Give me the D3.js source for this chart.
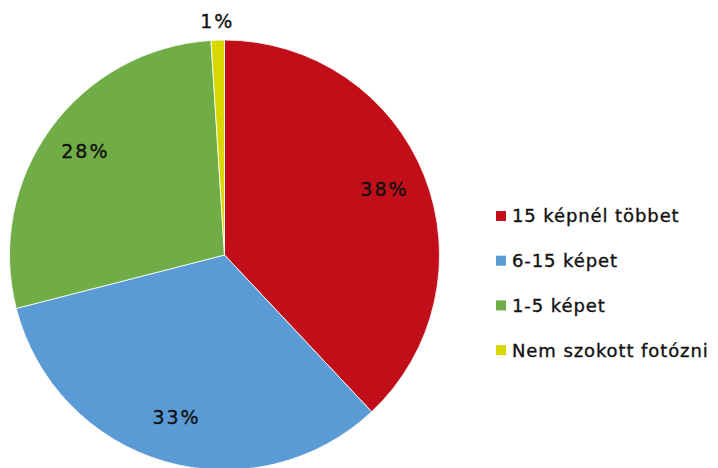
<!DOCTYPE html>
<html>
<head>
<meta charset="utf-8">
<script src="https://cdn.jsdelivr.net/npm/d3@7"></script>
<style>
  body { margin: 0; background: #fff; }
  svg text { font-family: "DejaVu Sans", sans-serif; fill: #111; stroke: #111; stroke-width: 0.35px; }
</style>
</head>
<body>
<svg id="chart" width="718" height="468"></svg>
<script>
const categories = ["15 képnél többet", "6-15 képet", "1-5 képet", "Nem szokott fotózni"];
const values = [38, 33, 28, 1];
const labels = ["38%", "33%", "28%", "1%"];
const colors = ["#C20E18", "#5B9BD5", "#70AD47", "#D8D800"];

const svg = d3.select("#chart");
const cx = 224.5, cy = 255, radius = 215;

const pie = d3.pie().sort(null).value(d => d.value);
const arcs = pie(categories.map((c, i) => ({ name: c, value: values[i], label: labels[i], color: colors[i] })));

const arc = d3.arc().innerRadius(0).outerRadius(radius);
const labelArc = d3.arc().innerRadius(radius * 0.8).outerRadius(radius * 0.8);
const outerArc = d3.arc().innerRadius(radius + 16).outerRadius(radius + 16);

const g = svg.append("g").attr("transform", `translate(${cx},${cy})`);

g.selectAll("path")
  .data(arcs)
  .enter()
  .append("path")
  .attr("d", arc)
  .attr("fill", d => d.data.color)
  .attr("stroke", "#fff")
  .attr("stroke-width", 0.8);

g.selectAll("text")
  .data(arcs)
  .enter()
  .append("text")
  .attr("transform", d => {
    const p = (d.data.value < 5 ? outerArc : labelArc).centroid(d);
    return `translate(${p[0]},${p[1] - 3})`;
  })
  .attr("text-anchor", "middle")
  .attr("dy", "0.36em")
  .style("font-size", "19px")
  .style("letter-spacing", "2px")
  .text(d => d.data.label);

const legend = svg.append("g").attr("transform", "translate(496,216)");
const rows = legend.selectAll("g")
  .data(categories)
  .enter()
  .append("g")
  .attr("transform", (d, i) => `translate(0,${i * 44.7})`);

rows.append("rect")
  .attr("x", 0)
  .attr("y", -5)
  .attr("width", 10)
  .attr("height", 10)
  .attr("fill", (d, i) => colors[i]);

rows.append("text")
  .attr("x", 16)
  .attr("dy", "0.36em")
  .style("font-size", "18px")
  .style("letter-spacing", "0.9px")
  .text(d => d);
</script>
</body>
</html>
